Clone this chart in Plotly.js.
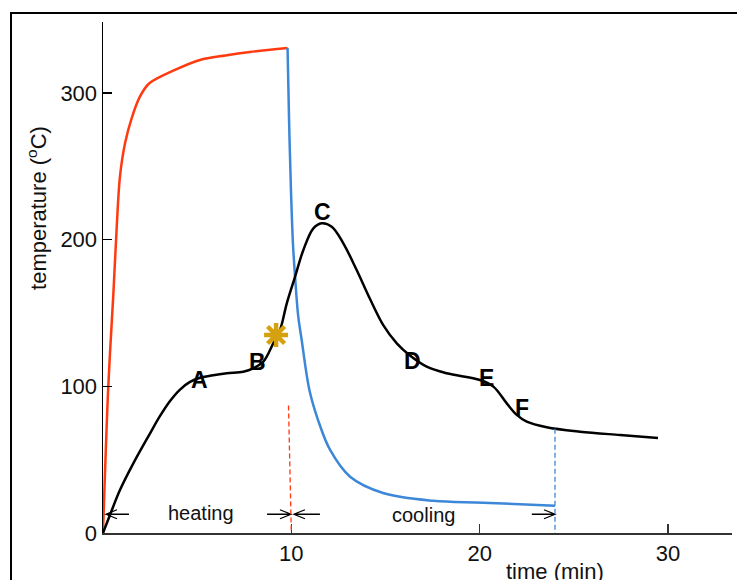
<!DOCTYPE html>
<html>
<head>
<meta charset="utf-8">
<script src="https://cdn.plot.ly/plotly-3.0.1.min.js"></script>
<style>
html,body{margin:0;padding:0;background:#fff;overflow:hidden;}
#wrap{position:relative;width:737px;height:580px;}
#chart{position:absolute;left:0;top:0;width:737px;height:580px;}
#frame{position:absolute;left:10px;top:12px;width:740px;height:600px;border-left:2px solid #000;border-top:2px solid #000;pointer-events:none;}
</style>
</head>
<body>
<div id="wrap"><div id="chart"></div><div id="frame"></div></div>
<script>
// ---- data (time in min, temperature in °C) ----
const heatTime = [0, 0.28, 0.55, 0.73, 0.9, 1.17, 1.52, 1.96, 2.46, 3.82, 5.15, 6.5, 7.8, 9.8];
const heatTemp = [0, 99.8, 163, 209, 243, 265.7, 282.7, 297.5, 306.6, 315.7, 322.5, 325.6, 328, 330.7];

const coolTime = [9.8, 9.88, 9.98, 10.09, 10.2, 10.36, 10.55, 10.96, 11.42, 12.06, 13.12, 14.87, 17.53, 20.18, 24.0];
const coolTemp = [330.7, 281.6, 233.9, 196.4, 174.5, 148.6, 131.6, 97.5, 77.0, 56.6, 38.4, 27.3, 22.0, 20.7, 18.6];

const sampleTime = [0, 0.37, 0.90, 1.61, 2.50, 3.03, 3.56, 4.09, 4.62, 5.15, 5.68, 6.57, 7.45, 7.98, 8.51, 9.04, 9.40, 9.76, 10.20, 10.64, 11.17, 11.61, 12.15, 12.76, 13.47, 14.18, 14.89, 15.60, 16.30, 17.19, 18.25, 20.02, 20.73, 21.44, 21.97, 22.50, 23.56, 25.33, 27.46, 29.47];
const sampleTemp = [0, 12.3, 29.3, 47.5, 68.0, 79.8, 90.0, 97.8, 103.0, 105.8, 107.2, 108.9, 110.0, 112.3, 116.8, 129.3, 138.4, 156.6, 174.8, 193.0, 207.7, 211.2, 208.8, 197.5, 179.3, 159.5, 141.5, 129.3, 121.0, 113.4, 108.9, 104.3, 99.8, 88.4, 80.5, 75.9, 72.1, 69.1, 66.8, 64.8];

const starTime = [9.19];
const starTemp = [135];

const pointLabels = ['A', 'B', 'C', 'D', 'E', 'F'];
const pointTime = [5.1, 8.23, 11.63, 16.46, 20.39, 22.25];
const pointTemp = [104.3, 116.6, 218.9, 117.3, 105.7, 85.2];

const phaseLabels = ['heating', 'cooling'];
const phaseTime = [5.18, 17.0];
const phaseTemp = [13.3, 12.6];

// arrows: [tail time, tip time] at arrowTemp
const arrowTail = [1.38, 8.71, 11.52, 22.77];
const arrowTip = [0.16, 9.98, 10.14, 24.0];
const arrowTemp = 12.8;

const xTicks = [10, 20, 30];
const yTicks = [0, 100, 200, 300];

// marker lines (end of heating / end of cooling)
const heatEnd = {x0: 9.85, x1: 10.0, y0: 87, y1: 0};
const coolEnd = {x0: 24.0, x1: 24.0, y0: 71, y1: 0};

// ---- build ----
const FONT = 'Liberation Sans, Arial, Helvetica, sans-serif';
const pxX = 629 / 33.4;   // px per minute
const pxY = 511 / 348.4;  // px per °C
const headL = 11 / pxX, headH = 4.5 / pxY;

const traces = [
  {x: heatTime, y: heatTemp, mode: 'lines', line: {color: '#ff3a10', width: 2.5, shape: 'spline', smoothing: 0.9}, hoverinfo: 'skip'},
  {x: coolTime, y: coolTemp, mode: 'lines', line: {color: '#3d87d8', width: 2.5, shape: 'spline', smoothing: 1}, hoverinfo: 'skip'},
  {x: sampleTime, y: sampleTemp, mode: 'lines', line: {color: '#000', width: 2.5, shape: 'spline', smoothing: 1}, hoverinfo: 'skip'},
  {x: starTime, y: starTemp, mode: 'markers', marker: {symbol: 'asterisk-open', size: 20, color: '#d6a10f', line: {color: '#d6a10f', width: 4.5}}, hoverinfo: 'skip', cliponaxis: false}
];

const shapes = [];
for (let i = 0; i < arrowTail.length; i++) {
  const tail = arrowTail[i], tip = arrowTip[i];
  const dir = tip > tail ? -1 : 1;
  const b = tip + dir * headL;
  shapes.push({type: 'path', xref: 'x', yref: 'y',
    path: `M${tail},${arrowTemp} L${tip},${arrowTemp} M${b},${arrowTemp + headH} L${tip},${arrowTemp} L${b},${arrowTemp - headH}`,
    line: {color: '#000', width: 1.3}});
}
shapes.push({type: 'line', xref: 'x', yref: 'y', x0: heatEnd.x0, x1: heatEnd.x1, y0: heatEnd.y0, y1: heatEnd.y1,
  line: {color: '#ff3a10', width: 1.3, dash: '5px,3px'}});
shapes.push({type: 'line', xref: 'x', yref: 'y', x0: coolEnd.x0, x1: coolEnd.x1, y0: coolEnd.y0, y1: coolEnd.y1,
  line: {color: '#3d87d8', width: 1.3, dash: '5px,3px'}});

const annotations = [];
pointLabels.forEach((t, i) => annotations.push({x: pointTime[i], y: pointTemp[i], xref: 'x', yref: 'y', text: '<b>' + t + '</b>',
  showarrow: false, font: {family: FONT, size: 23, color: '#000'}, xanchor: 'center', yanchor: 'middle'}));
phaseLabels.forEach((t, i) => annotations.push({x: phaseTime[i], y: phaseTemp[i], xref: 'x', yref: 'y', text: t,
  showarrow: false, font: {family: FONT, size: 20, color: '#111'}, xanchor: 'center', yanchor: 'middle'}));
annotations.push({x: -0.105, y: 0.636, xref: 'paper', yref: 'paper', text: 'temperature (<sup>o</sup>C)', textangle: -90,
  showarrow: false, font: {family: FONT, size: 22, color: '#111'}, xanchor: 'center', yanchor: 'middle'});
annotations.push({x: 0.7186, y: -0.076, xref: 'paper', yref: 'paper', text: 'time (min)',
  showarrow: false, font: {family: FONT, size: 22, color: '#111'}, xanchor: 'center', yanchor: 'middle'});

const layout = {
  width: 737, height: 580,
  margin: {l: 103, r: 5, t: 22, b: 47, pad: 0},
  paper_bgcolor: '#fff', plot_bgcolor: '#fff',
  showlegend: false,
  xaxis: {range: [0, 33.4], showgrid: false, zeroline: false, showline: true, linecolor: '#333', linewidth: 1.5,
    ticks: 'inside', ticklen: 9, tickwidth: 1.2, tickcolor: '#333', tickvals: xTicks, ticktext: xTicks.map(String),
    tickfont: {family: FONT, size: 22, color: '#111'}, fixedrange: true},
  yaxis: {range: [0, 348.4], showgrid: false, zeroline: false, showline: true, linecolor: '#000', linewidth: 1.5,
    ticks: 'inside', ticklen: 9, tickwidth: 1.2, tickcolor: '#000', tickvals: yTicks, ticktext: yTicks.map(String),
    tickfont: {family: FONT, size: 22, color: '#111'}, fixedrange: true},
  shapes: shapes,
  annotations: annotations
};

Plotly.newPlot('chart', traces, layout, {displayModeBar: false, staticPlot: true});
</script>
</body>
</html>
